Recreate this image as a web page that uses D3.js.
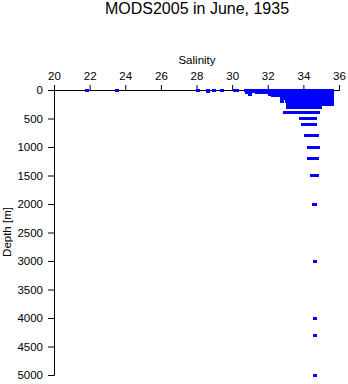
<!DOCTYPE html>
<html>
<head>
<meta charset="utf-8">
<script src="https://cdn.jsdelivr.net/npm/d3@7"></script>
<style>
  html, body { margin: 0; padding: 0; background: #fff; }
  svg { display: block; font-family: "Liberation Sans", Arial, sans-serif; }
</style>
</head>
<body>
<svg id="chart" width="348" height="384"></svg>
<script>
// ---- data ----
const title = "MODS2005 in June, 1935";
const xLabel = "Salinity";
const yLabel = "Depth [m]";
const xTicks = [20, 22, 24, 26, 28, 30, 32, 34, 36];
const yTicks = [0, 500, 1000, 1500, 2000, 2500, 3000, 3500, 4000, 4500, 5000];

const depths = [0, 10, 20, 30, 50, 75, 100, 125, 150, 200, 250, 300, 400, 500, 600, 800, 1000, 1200, 1500, 2000, 3000, 4000, 4300, 5000];

const s0 = [21.83, 23.55, 28.07, 28.66, 28.98, 29.45, 30.18, 30.3, 30.82, 30.95, 31.1, 31.22, 31.35, 31.5, 31.62, 31.78, 31.9, 32.05, 32.18, 32.3, 32.46, 32.6, 32.72, 32.88, 33.0, 33.14, 33.27, 33.4, 33.55, 33.68, 33.8, 33.95, 34.08, 34.2, 34.35, 34.48, 34.6, 34.75, 34.88, 35.0, 35.15, 35.28, 35.42, 35.56];
const s10 = [30.8, 30.93, 31.08, 31.2, 31.36, 31.48, 31.63, 31.76, 31.9, 32.04, 32.17, 32.32, 32.45, 32.58, 32.73, 32.86, 33.0, 33.12, 33.26, 33.4, 33.53, 33.67, 33.8, 33.94, 34.07, 34.2, 34.34, 34.47, 34.61, 34.74, 34.88, 35.01, 35.15, 35.28, 35.42, 35.58];
const s20 = [28.66, 30.88, 31.02, 31.15, 31.3, 31.42, 31.58, 31.7, 31.84, 31.98, 32.12, 32.25, 32.4, 32.52, 32.66, 32.8, 32.93, 33.06, 33.2, 33.34, 33.47, 33.6, 33.74, 33.88, 34.0, 34.14, 34.28, 34.42, 34.55, 34.68, 34.82, 34.95, 35.1, 35.22, 35.36, 35.5, 35.6];
const s30 = [31.2, 31.34, 31.48, 31.6, 31.75, 31.88, 32.02, 32.15, 32.3, 32.43, 32.57, 32.7, 32.84, 32.97, 33.1, 33.24, 33.38, 33.51, 33.64, 33.78, 33.92, 34.05, 34.18, 34.32, 34.45, 34.6, 34.72, 34.86, 35.0, 35.13, 35.27, 35.4, 35.55];
const s50 = [30.85, 31.4, 31.55, 31.68, 31.82, 31.95, 32.1, 32.22, 32.37, 32.5, 32.64, 32.77, 32.9, 33.04, 33.18, 33.32, 33.45, 33.58, 33.72, 33.85, 34.0, 34.12, 34.26, 34.4, 34.53, 34.66, 34.8, 34.94, 35.07, 35.2, 35.35, 35.48, 35.6];
const s75 = [31.0, 32.12, 32.26, 32.4, 32.53, 32.67, 32.8, 32.94, 33.08, 33.21, 33.35, 33.49, 33.62, 33.76, 33.9, 34.03, 34.16, 34.3, 34.44, 34.57, 34.7, 34.84, 34.97, 35.1, 35.24, 35.38, 35.52, 35.6];
const s100 = [32.3, 32.44, 32.58, 32.72, 32.85, 33.0, 33.12, 33.26, 33.4, 33.54, 33.67, 33.8, 33.94, 34.08, 34.22, 34.35, 34.48, 34.62, 34.76, 34.9, 35.03, 35.16, 35.3, 35.44, 35.58];
const s125 = [32.88, 33.02, 33.15, 33.3, 33.44, 33.57, 33.7, 33.84, 33.98, 34.11, 34.25, 34.38, 34.52, 34.66, 34.8, 34.93, 35.06, 35.2, 35.34, 35.48, 35.6];
const s150 = [32.8, 33.0, 33.14, 33.28, 33.42, 33.55, 33.68, 33.82, 33.96, 34.1, 34.23, 34.37, 34.5, 34.64, 34.78, 34.92, 35.05, 35.18, 35.32, 35.46, 35.6];
const s200 = [32.8, 33.06, 33.2, 33.33, 33.47, 33.6, 33.74, 33.88, 34.02, 34.15, 34.28, 34.42, 34.56, 34.7, 34.83, 34.96, 35.1, 35.24, 35.38, 35.52, 35.6];
const s250 = [33.15, 33.28, 33.42, 33.56, 33.7, 33.83, 33.97, 34.1, 34.24, 34.37, 34.5, 34.64, 34.78, 34.92, 35.05, 35.19, 35.32, 35.46, 35.6];
const s300 = [33.15, 33.28, 33.42, 33.55, 33.7, 33.83, 33.96, 34.1, 34.24, 34.38, 34.52, 34.65, 34.8, 34.92];
const s400 = [32.98, 33.1, 33.2, 33.34, 33.48, 33.62, 33.76, 33.9, 34.04, 34.18, 34.32, 34.46, 34.6, 34.74, 34.84];
const s500 = [33.88, 34.0, 34.12, 34.25, 34.38, 34.5, 34.6, 34.64];
const s600 = [34.0, 34.12, 34.24, 34.36, 34.48, 34.58, 34.66];
const s800 = [34.16, 34.28, 34.4, 34.52, 34.64, 34.74];
const s1000 = [34.3, 34.42, 34.54, 34.66, 34.76, 34.84];
const s1200 = [34.32, 34.44, 34.56, 34.66, 34.74];
const s1500 = [34.5, 34.6, 34.68, 34.74];
const s2000 = [34.6, 34.66];
const s3000 = [34.68];
const s4000 = [34.68];
const s4300 = [34.68];
const s5000 = [34.68];

const salinityByDepth = [s0, s10, s20, s30, s50, s75, s100, s125, s150, s200, s250, s300, s400, s500, s600, s800, s1000, s1200, s1500, s2000, s3000, s4000, s4300, s5000];

const points = [];
depths.forEach((d, i) => salinityByDepth[i].forEach(s => points.push({ s, d })));

// ---- layout ----
const svg = d3.select("#chart");
const x = d3.scaleLinear().domain([20, 36]).range([54, 339]);
const y = d3.scaleLinear().domain([0, 5000]).range([90, 375]);

svg.append("text")
  .attr("x", 197).attr("y", 14)
  .attr("text-anchor", "middle")
  .attr("font-size", 16)
  .text(title);

const xAxis = svg.append("g")
  .attr("transform", "translate(0,90)")
  .call(d3.axisTop(x).tickValues(xTicks).tickSize(5).tickPadding(5).tickFormat(d3.format("d")));
const yAxis = svg.append("g")
  .attr("transform", "translate(54,0)")
  .call(d3.axisLeft(y).tickValues(yTicks).tickSize(6).tickPadding(5).tickFormat(d3.format("d")));

[xAxis, yAxis].forEach(g => {
  g.select(".domain").attr("stroke", "#000").attr("stroke-width", 1);
  g.selectAll(".tick line").attr("stroke", "#000");
  g.selectAll(".tick text").attr("font-size", 11.5).attr("fill", "#000")
    .attr("font-family", "Liberation Sans, Arial, sans-serif");
});

svg.append("text")
  .attr("x", 197).attr("y", 64)
  .attr("text-anchor", "middle")
  .attr("font-size", 11.5)
  .text(xLabel);

svg.append("text")
  .attr("transform", "translate(11,232) rotate(-90)")
  .attr("text-anchor", "middle")
  .attr("font-size", 11.5)
  .text(yLabel);

svg.append("g")
  .selectAll("rect")
  .data(points)
  .join("rect")
  .attr("x", p => x(p.s) - 2)
  .attr("y", p => y(p.d) - 1.5)
  .attr("width", 4)
  .attr("height", 3)
  .attr("fill", "#0000ff")
  .attr("shape-rendering", "crispEdges");
</script>
</body>
</html>
